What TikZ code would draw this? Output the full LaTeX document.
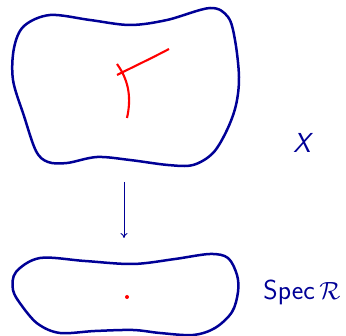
\documentclass[tikz,border=0pt]{standalone}
\usepackage{amsmath}
\usetikzlibrary{arrows.meta}
\definecolor{navy}{RGB}{0,0,150}
\tikzset{
  blob/.style={draw=navy,line width=2.5pt,line join=round},
  fibre/.style={draw=red,line width=2.1pt},
  mapto/.style={draw=navy,line width=0.9pt,-{To[length=5pt,width=7pt]}},
  lbl/.style={text=navy,font=\sffamily\fontsize{27.5}{32}\selectfont,inner sep=0pt}
}
\begin{document}
\begin{tikzpicture}[x=1pt,y=-1pt]
\useasboundingbox (0,0) rectangle (346,336);
% top blob X
\draw[blob] plot[smooth cycle,tension=0.55] coordinates {
 (50,15) (90,20) (130,25) (167,20) (210,8) (228,17) (235,40) (239,77) (236,105)
 (227,130) (213,153) (193,165) (168,165) (130,160) (97,157) (67,163) (48,162)
 (36,151) (24,116) (13,80) (14,48) (24,26)};
% red curves
\draw[fibre] (117,75) .. controls (135,66) and (152,58) .. (169,49);
\draw[fibre] (117,64) .. controls (130,82) and (131,100) .. (127,118);
% bottom blob Spec R
\draw[blob] plot[smooth cycle,tension=0.55] coordinates {
 (40,258) (85,261) (133,264) (175,259) (210,254) (228,258) (237,275) (238,292)
 (232,312) (215,328) (193,335) (160,333) (133,330) (95,331) (60,333) (38,324)
 (22,306) (13,290) (16,272)};
\fill[red] (127,297) circle (2);
% arrow
\coordinate (a1) at (124,182);
\coordinate (a2) at (124,238);
\draw[mapto] (a1) -- (a2);
% labels
\node[lbl] (X) at (302,143) {\itshape X};
\node[lbl] (S) at (302,292) {Spec\,$\mathcal{R}$};
\end{tikzpicture}
\end{document}
